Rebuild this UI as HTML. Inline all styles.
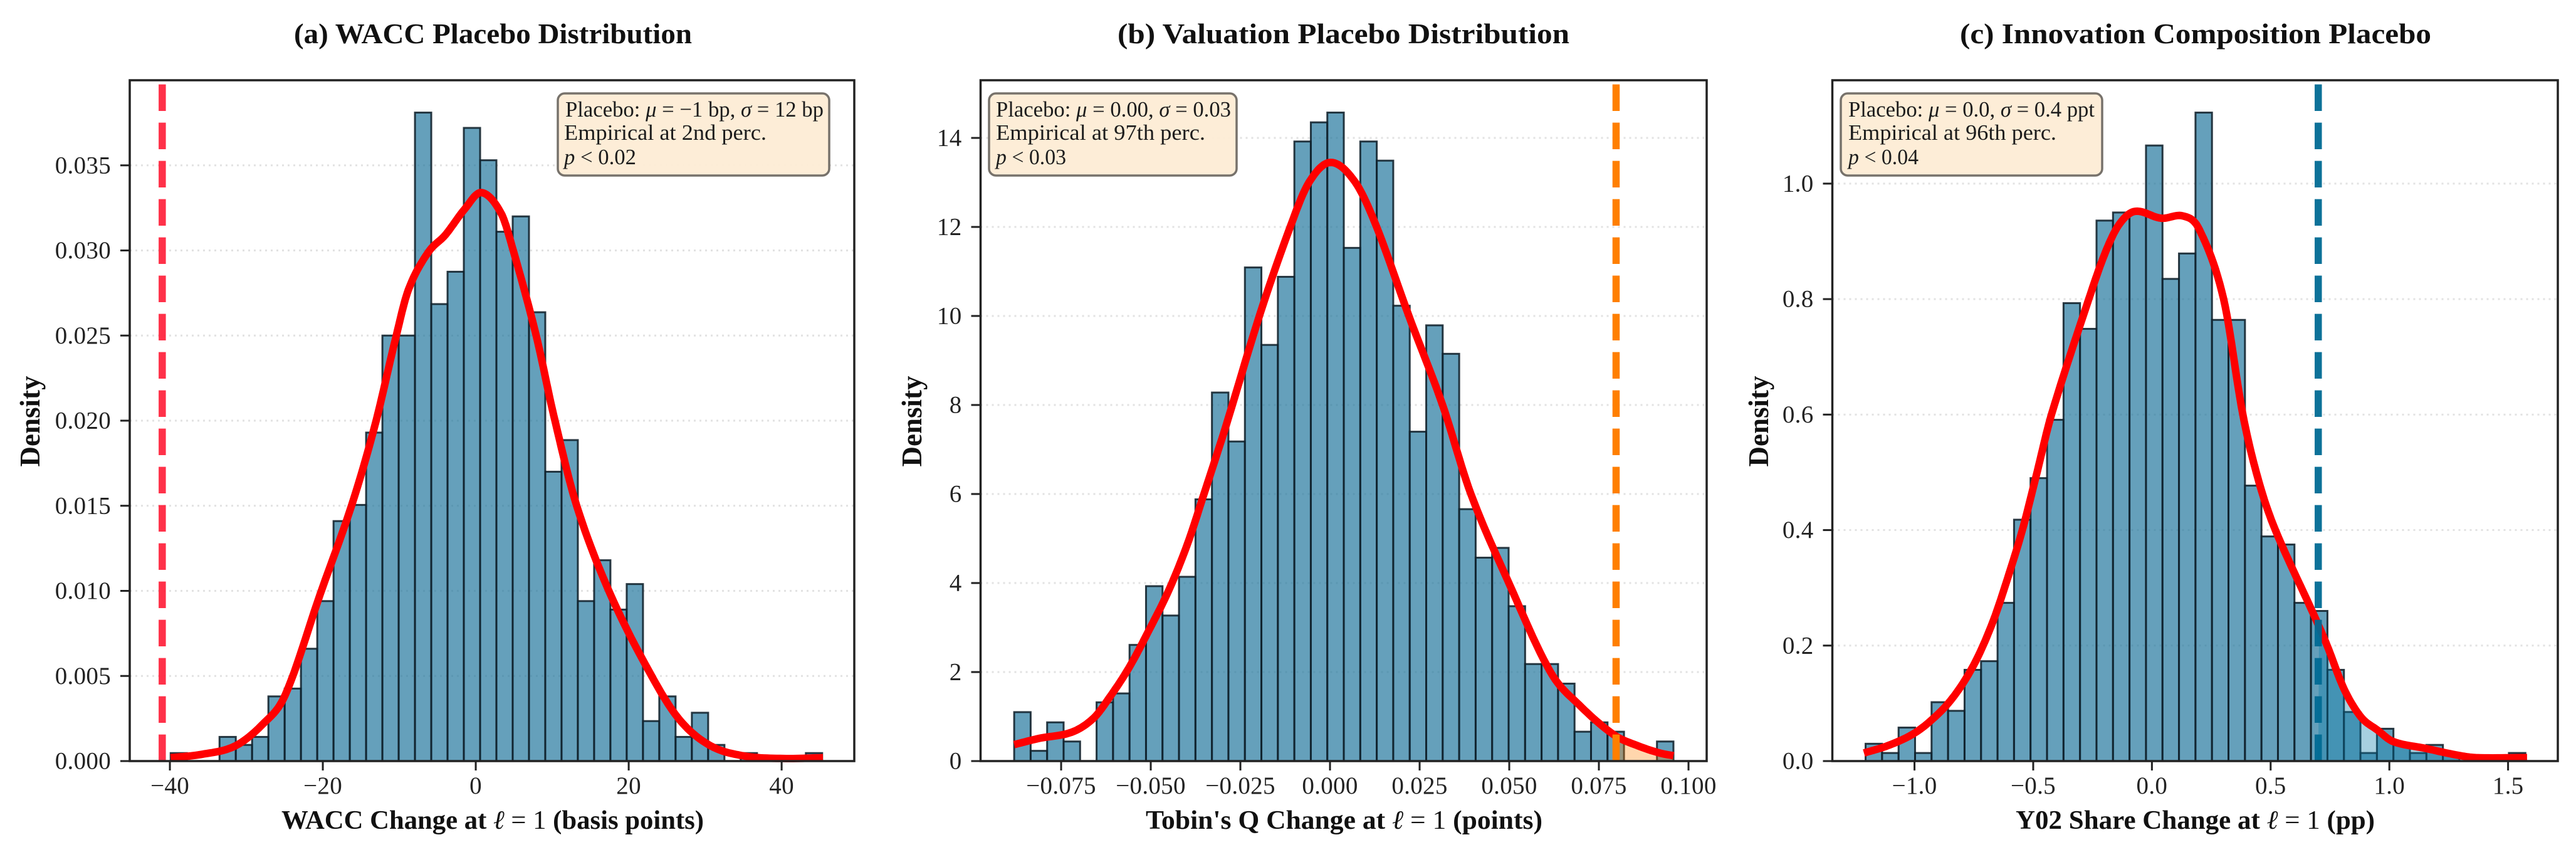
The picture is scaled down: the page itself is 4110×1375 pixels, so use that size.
<!DOCTYPE html>
<html lang="en">
<head>
<meta charset="utf-8">
<title>Placebo Distributions</title>
<style>
html,body{margin:0;padding:0;background:#fff;}
svg{display:block;}
text{font-family:"Liberation Serif","DejaVu Serif",serif;fill:#111;}
.title{font-size:46px;font-weight:bold;}
.xlabel{font-size:42px;}
.b{font-weight:bold;}
.ylabel{font-size:46px;font-weight:bold;}
.tick{font-size:39px;letter-spacing:.3px;fill:#222;}
.note{font-size:35px;fill:#1c1c1c;}
.i{font-style:italic;}
</style>
</head>
<body>
<svg id="chart" xmlns="http://www.w3.org/2000/svg" width="4110" height="1375" viewBox="0 0 4110 1375">
  <rect x="0" y="0" width="4110" height="1375" fill="#fff"/>

  <text class="title" x="469" y="69" textLength="635" lengthAdjust="spacingAndGlyphs">(a) WACC Placebo Distribution</text>
  <text class="title" x="1783" y="69" textLength="721" lengthAdjust="spacingAndGlyphs">(b) Valuation Placebo Distribution</text>
  <text class="title" x="3127" y="69" textLength="752" lengthAdjust="spacingAndGlyphs">(c) Innovation Composition Placebo</text>

  <g id="panel-a"></g>
  <g id="panel-b"></g>
  <g id="panel-c"></g>

  <text class="ylabel" transform="rotate(-90 63 672)" x="63" y="672" text-anchor="middle" textLength="145" lengthAdjust="spacingAndGlyphs">Density</text>
  <text class="ylabel" transform="rotate(-90 1470 672)" x="1470" y="672" text-anchor="middle" textLength="145" lengthAdjust="spacingAndGlyphs">Density</text>
  <text class="ylabel" transform="rotate(-90 2821 672)" x="2821" y="672" text-anchor="middle" textLength="145" lengthAdjust="spacingAndGlyphs">Density</text>

  <text class="xlabel" x="449" y="1322" textLength="674" lengthAdjust="spacingAndGlyphs"><tspan class="b">WACC Change at </tspan><tspan class="i">ℓ</tspan><tspan> = 1 </tspan><tspan class="b">(basis points)</tspan></text>
  <text class="xlabel" x="1828" y="1322" textLength="633" lengthAdjust="spacingAndGlyphs"><tspan class="b">Tobin's Q Change at </tspan><tspan class="i">ℓ</tspan><tspan> = 1 </tspan><tspan class="b">(points)</tspan></text>
  <text class="xlabel" x="3216" y="1322" textLength="573" lengthAdjust="spacingAndGlyphs"><tspan class="b">Y02 Share Change at </tspan><tspan class="i">ℓ</tspan><tspan> = 1 </tspan><tspan class="b">(pp)</tspan></text>

  <g>
    <rect x="890" y="149" width="433" height="131" rx="11" fill="#fdecd5" fill-opacity=".96" stroke="#77726b" stroke-width="3.5"/>
    <text class="note" x="902" y="186" textLength="412" lengthAdjust="spacingAndGlyphs">Placebo: <tspan class="i">μ</tspan> = −1 bp, <tspan class="i">σ</tspan> = 12 bp</text>
    <text class="note" x="900" y="223" textLength="323" lengthAdjust="spacingAndGlyphs">Empirical at 2nd perc.</text>
    <text class="note" x="900" y="262" textLength="115" lengthAdjust="spacingAndGlyphs"><tspan class="i">p</tspan> &lt; 0.02</text>
  </g>
  <g>
    <rect x="1578" y="149" width="395" height="131" rx="11" fill="#fdecd5" fill-opacity=".96" stroke="#77726b" stroke-width="3.5"/>
    <text class="note" x="1589" y="186" textLength="375" lengthAdjust="spacingAndGlyphs">Placebo: <tspan class="i">μ</tspan> = 0.00, <tspan class="i">σ</tspan> = 0.03</text>
    <text class="note" x="1589" y="223" textLength="334" lengthAdjust="spacingAndGlyphs">Empirical at 97th perc.</text>
    <text class="note" x="1589" y="262" textLength="112" lengthAdjust="spacingAndGlyphs"><tspan class="i">p</tspan> &lt; 0.03</text>
  </g>
  <g>
    <rect x="2937" y="149" width="417" height="131" rx="11" fill="#fdecd5" fill-opacity=".96" stroke="#77726b" stroke-width="3.5"/>
    <text class="note" x="2949" y="186" textLength="393" lengthAdjust="spacingAndGlyphs">Placebo: <tspan class="i">μ</tspan> = 0.0, <tspan class="i">σ</tspan> = 0.4 ppt</text>
    <text class="note" x="2949" y="223" textLength="332" lengthAdjust="spacingAndGlyphs">Empirical at 96th perc.</text>
    <text class="note" x="2949" y="262" textLength="112" lengthAdjust="spacingAndGlyphs"><tspan class="i">p</tspan> &lt; 0.04</text>
  </g>
</svg>

<script>
/* Panel (a) WACC */
const waccBinRange = [-39.9, 45.3];
const waccDensity = [0.00047,0,0,0.00142,0.00095,0.00142,0.0038,0.00426,0.0066,0.0094,0.0141,0.01505,0.0193,0.025,0.025,0.0381,0.02685,0.02875,0.0372,0.0353,0.0311,0.032,0.02637,0.017,0.01886,0.0094,0.0118,0.0089,0.0104,0.00235,0.0038,0.00142,0.00284,0.00095,0,0.00047,0,0,0,0.00047];
const waccKdeX = [-39.9,-35.9,-31.5,-27.8,-24.9,-20.35,-16.25,-13.2,-10.5,-8.8,-6.2,-4.0,-1.5,0.73,3.3,4.9,7.9,10.2,13.2,17.6,23.0,26.7,30.7,35.1,40.2,45.4];
const waccKdeY = [0.0002,0.00039,0.00088,0.00219,0.0039,0.0098,0.015,0.0197,0.0248,0.0277,0.0299,0.0309,0.0324,0.0334,0.0322,0.03,0.025,0.0203,0.015,0.0098,0.005,0.0024,0.0009,0.0003,0.00015,0.0002];
const waccXTicks = [-40,-20,0,20,40];
const waccXTickLabels = ["−40","−20","0","20","40"];
const waccYTicks = [0,0.005,0.01,0.015,0.02,0.025,0.03,0.035];
const waccYTickLabels = ["0.000","0.005","0.010","0.015","0.020","0.025","0.030","0.035"];
const waccEmpirical = -41;

/* Panel (b) Tobin's Q */
const tobinBinRange = [-0.0881, 0.0958];
const tobinDensity = [1.10,0.23,0.87,0.44,0,1.32,1.52,2.61,3.93,3.27,4.14,5.88,8.28,7.18,11.09,9.35,10.88,13.92,14.35,14.57,11.53,13.92,13.49,10.23,7.4,9.79,9.15,5.66,4.57,4.79,3.48,2.18,2.18,1.74,0.66,0.87,0.66,0,0,0.44];
const tobinKdeX = [-0.0881,-0.0811,-0.072,-0.066,-0.0615,-0.0562,-0.051,-0.0449,-0.0397,-0.0352,-0.0291,-0.0197,-0.0111,-0.0058,0.0002,0.007,0.013,0.022,0.0314,0.0393,0.0499,0.0615,0.0694,0.0792,0.086,0.092,0.0958];
const tobinKdeY = [0.37,0.51,0.65,0.96,1.43,2.08,2.86,3.85,4.89,5.99,7.51,10,12,13.01,13.45,13.01,12,10,8,6,4,2,1.27,0.59,0.34,0.18,0.12];
const tobinXTicks = [-0.075,-0.05,-0.025,0,0.025,0.05,0.075,0.1];
const tobinXTickLabels = ["−0.075","−0.050","−0.025","0.000","0.025","0.050","0.075","0.100"];
const tobinYTicks = [0,2,4,6,8,10,12,14];
const tobinYTickLabels = ["0","2","4","6","8","10","12","14"];
const tobinEmpirical = 0.0798;

/* Panel (c) Y02 share */
const y02BinRange = [-1.206, 1.573];
const y02Density = [0.03,0.014,0.058,0.014,0.102,0.087,0.158,0.173,0.274,0.418,0.49,0.591,0.793,0.7485,0.936,0.95,0.952,1.066,0.835,0.879,1.123,0.764,0.764,0.477,0.389,0.375,0.274,0.26,0.158,0.085,0.014,0.056,0.028,0.014,0.028,0.014,0,0,0,0.014];
const y02KdeX = [-1.213,-1.117,-1.014,-0.934,-0.842,-0.751,-0.671,-0.602,-0.545,-0.488,-0.423,-0.266,-0.195,-0.137,-0.071,0.039,0.131,0.199,0.302,0.383,0.451,0.52,0.68,0.738,0.809,0.881,0.949,1.015,1.152,1.277,1.364,1.58];
const y02KdeY = [0.014,0.026,0.045,0.069,0.108,0.166,0.24,0.324,0.401,0.493,0.6,0.8,0.882,0.93,0.952,0.94,0.944,0.921,0.8,0.6,0.483,0.4,0.255,0.2,0.125,0.076,0.054,0.034,0.022,0.011,0.006,0.006];
const y02XTicks = [-1,-0.5,0,0.5,1,1.5];
const y02XTickLabels = ["−1.0","−0.5","0.0","0.5","1.0","1.5"];
const y02YTicks = [0,0.2,0.4,0.6,0.8,1.0];
const y02YTickLabels = ["0.0","0.2","0.4","0.6","0.8","1.0"];
const y02Empirical = 0.7006;

const NS = "http://www.w3.org/2000/svg";
const AXIS_TOP = 128, AXIS_BOTTOM = 1214;

function make(parent, tag, attrs) {
  const el = document.createElementNS(NS, tag);
  for (const k in attrs) el.setAttribute(k, attrs[k]);
  parent.appendChild(el);
  return el;
}

/* Smooth y(x) through read-off KDE points: cubic Hermite with x-aware tangents */
function sampleCurve(xs, ys) {
  const last = xs.length - 1;
  const slope = i => {
    const a = Math.max(i - 1, 0), b = Math.min(i + 1, last);
    return (ys[b] - ys[a]) / (xs[b] - xs[a]);
  };
  const out = [];
  for (let i = 0; i < last; i++) {
    const h = xs[i + 1] - xs[i], m0 = slope(i), m1 = slope(i + 1);
    for (let s = 0; s < 12; s++) {
      const t = s / 12, t2 = t * t, t3 = t2 * t;
      const y = (2 * t3 - 3 * t2 + 1) * ys[i] + (t3 - 2 * t2 + t) * h * m0 + (-2 * t3 + 3 * t2) * ys[i + 1] + (t3 - t2) * h * m1;
      out.push([xs[i] + t * h, Math.max(0, y)]);
    }
  }
  out.push([xs[last], ys[last]]);
  return out;
}

function drawPanel(cfg) {
  const root = document.getElementById(cfg.id);
  const sx = v => cfg.left + (v - cfg.xDomain[0]) * (cfg.right - cfg.left) / (cfg.xDomain[1] - cfg.xDomain[0]);
  const sy = v => AXIS_BOTTOM - (v - cfg.yDomain[0]) * (AXIS_BOTTOM - AXIS_TOP) / (cfg.yDomain[1] - cfg.yDomain[0]);

  cfg.yTicks.forEach(v => {
    const line = make(root, "line", {x1: cfg.left, x2: cfg.right, y1: sy(v), y2: sy(v), stroke: "#e2e2e2", "stroke-width": 3, "stroke-dasharray": "3 6"});
    
    
  });

  const n = cfg.density.length;
  const binW = (cfg.binRange[1] - cfg.binRange[0]) / n;
  cfg.density.forEach((d, i) => {
    if (d <= 0) return;
    const x0 = sx(cfg.binRange[0] + i * binW), x1 = sx(cfg.binRange[0] + (i + 1) * binW);
    const bar = make(root, "rect", {x: x0, y: sy(d), width: x1 - x0, height: sy(0) - sy(d), fill: "#24789e", "fill-opacity": .7, stroke: "#10202a", "stroke-opacity": .88, "stroke-width": 3});
    
    
  });

  const curve = sampleCurve(cfg.kdeX, cfg.kdeY);
  if (cfg.tailFill) {
    const tail = curve.filter(p => p[0] >= cfg.empirical);
    let pts = sx(cfg.empirical) + "," + sy(0) + " ";
    tail.forEach(p => { pts += sx(p[0]) + "," + sy(p[1]) + " "; });
    pts += sx(tail[tail.length - 1][0]) + "," + sy(0);
    const poly = make(root, "polygon", {points: pts, fill: cfg.tailFill, "fill-opacity": cfg.tailOpacity});
    
    
  }

  const d = curve.map((p, i) => (i ? "L" : "M") + sx(p[0]).toFixed(1) + " " + sy(p[1]).toFixed(1)).join(" ");
  const kde = make(root, "path", {d: d, fill: "none", stroke: "#ff0000", "stroke-width": 12, "stroke-linejoin": "round"});
  
  

  const vline = make(root, "line", {x1: sx(cfg.empirical), x2: sx(cfg.empirical), y1: AXIS_BOTTOM, y2: AXIS_TOP, stroke: cfg.lineColor, "stroke-opacity": cfg.lineOpacity, "stroke-width": 11.5, "stroke-dasharray": "42.4 18.6"});
  
  

  const frame = make(root, "rect", {x: cfg.left, y: AXIS_TOP, width: cfg.right - cfg.left, height: AXIS_BOTTOM - AXIS_TOP, fill: "none", stroke: "#222", "stroke-width": 3.5});
  
  

  cfg.xTicks.forEach((v, i) => {
    const tick = make(root, "line", {x1: sx(v), x2: sx(v), y1: AXIS_BOTTOM, y2: AXIS_BOTTOM + 15, stroke: "#222", "stroke-width": 3});
    
    
    const label = make(root, "text", {x: sx(v), y: 1266, "text-anchor": "middle", "class": "tick"});
    
    
    label.textContent = cfg.xTickLabels[i];
  });

  cfg.yTicks.forEach((v, i) => {
    const tick = make(root, "line", {x1: cfg.left - 15, x2: cfg.left, y1: sy(v), y2: sy(v), stroke: "#222", "stroke-width": 3});
    
    
    const label = make(root, "text", {x: cfg.left - 30, y: sy(v) + 12.5, "text-anchor": "end", "class": "tick"});
    
    
    label.textContent = cfg.yTickLabels[i];
  });
}

drawPanel({id: "panel-a", left: 207, right: 1363, xDomain: [-45.25, 49.5], yDomain: [0, 0.04],
  binRange: waccBinRange, density: waccDensity, kdeX: waccKdeX, kdeY: waccKdeY,
  xTicks: waccXTicks, xTickLabels: waccXTickLabels, yTicks: waccYTicks, yTickLabels: waccYTickLabels,
  empirical: waccEmpirical, lineColor: "#ff1f3a", lineOpacity: .92});
drawPanel({id: "panel-b", left: 1564.5, right: 2723, xDomain: [-0.09747, 0.10507], yDomain: [0, 15.296],
  binRange: tobinBinRange, density: tobinDensity, kdeX: tobinKdeX, kdeY: tobinKdeY,
  xTicks: tobinXTicks, xTickLabels: tobinXTickLabels, yTicks: tobinYTicks, yTickLabels: tobinYTickLabels,
  empirical: tobinEmpirical, lineColor: "#ff7f00", lineOpacity: 1, tailFill: "#ff8000", tailOpacity: .32});
drawPanel({id: "panel-c", left: 2923.5, right: 4081, xDomain: [-1.346, 1.7096], yDomain: [0, 1.179],
  binRange: y02BinRange, density: y02Density, kdeX: y02KdeX, kdeY: y02KdeY,
  xTicks: y02XTicks, xTickLabels: y02XTickLabels, yTicks: y02YTicks, yTickLabels: y02YTickLabels,
  empirical: y02Empirical, lineColor: "#006a94", lineOpacity: .95, tailFill: "#0a7ea8", tailOpacity: .36});
</script>
</body>
</html>
